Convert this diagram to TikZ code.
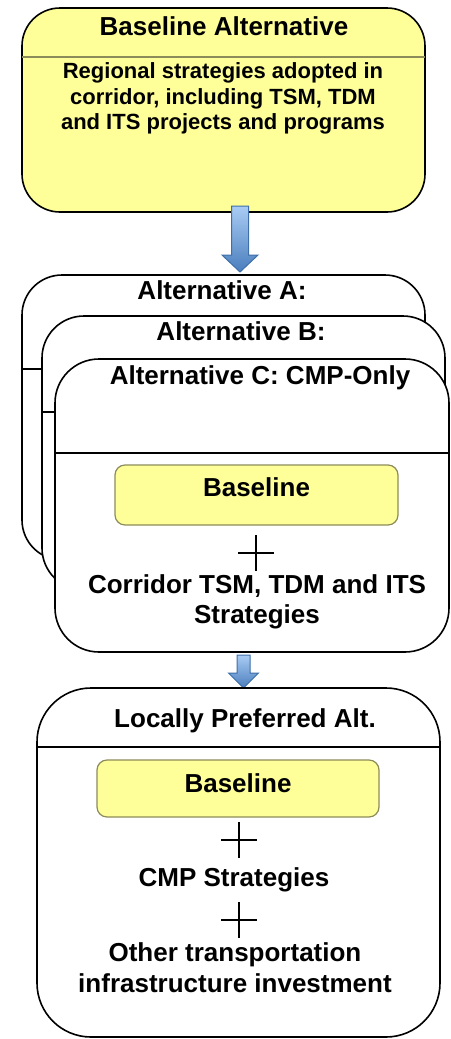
\documentclass[tikz,border=0pt]{standalone}
\usepackage{fontspec}
\setmainfont{Liberation Sans}
\usepackage{xcolor}
\usetikzlibrary{calc}
\definecolor{pale}{HTML}{FFFF99}
\definecolor{olive}{HTML}{8C8C5A}
\definecolor{lightblue}{HTML}{A9CCF4}
\definecolor{darkblue}{HTML}{4A7EBD}
\definecolor{edgeblue}{HTML}{3E6FA8}

\begin{document}
\begin{tikzpicture}[x=0.5pt, y=-0.5pt, line width=0.8pt,
  box/.style={draw, fill=white, rounded corners=#1, outer sep=0pt, inner sep=0pt},
  inbox/.style={draw=olive, line width=0.6pt, fill=pale, rounded corners=5pt, outer sep=0pt, inner sep=3.5pt,
    minimum width=141.5pt, font=\fontsize{13}{15.5}\selectfont\bfseries},
  ttl/.style={font=\fontsize{13}{15.5}\selectfont\bfseries, text height=9.5pt, text depth=2.5pt, inner sep=0pt},
  txt/.style={font=\fontsize{13}{15.3}\selectfont\bfseries, align=center, inner sep=0pt},
  arr/.style={top color=lightblue, bottom color=darkblue, draw=edgeblue, line width=0.5pt},
  plus/.style={line width=0.7pt}]
  \useasboundingbox (0,0) rectangle (450,1039);

  % baseline alternative
  \node[box=19pt, fill=pale, minimum width=201.5pt, minimum height=102pt] (topbox) at (223.5,110) {};
  \draw[olive, line width=0.6pt] (topbox.west |- 0,57) -- (topbox.east |- 0,57);
  \node[ttl] (toptitle) at (224,28) {Baseline Alternative};
  \node[txt, font=\fontsize{11}{12.75}\selectfont\bfseries] (toptext) at (223,98.5)
    {Regional strategies adopted in\\corridor, including TSM, TDM\\and ITS projects and programs};

  \coordinate (t1) at ($(topbox.south)+(16.5,60)$);
  \shade[arr] (t1) -- ++(-18,-17) -- ++(9.5,0) -- ++(0,-49) -- ++(17,0) -- ++(0,49) -- ++(9.5,0) -- cycle;

  % stacked alternatives
  \node[box=20pt, minimum width=201.5pt, minimum height=142.5pt] (alta) at (223.5,417.5) {};
  \draw (alta.west |- 0,369) -- (alta.east |- 0,369);
  \node[ttl] (titlea) at (222,292) {Alternative A:};

  \node[box=21pt, minimum width=201.5pt, minimum height=137pt] (altb) at (243.5,453) {};
  \draw (altb.west |- 0,412) -- (altb.east |- 0,412);
  \node[ttl] (titleb) at (241,333) {Alternative B:};

  \node[box=22pt, minimum width=197pt, minimum height=146.5pt] (altc) at (252,505.5) {};
  \draw (altc.west |- 0,453) -- (altc.east |- 0,453);
  \node[ttl] (titlec) at (260,377) {Alternative C: CMP-Only};

  \node[inbox, minimum height=30pt, text height=12pt, text depth=11pt] (cbase) at (256.5,495) {Baseline};
  \draw[plus] (256,535) -- (256,571) (238,553) -- (274,553);
  \node[txt] (cstrat) at (257,602) {Corridor TSM, TDM and ITS\\Strategies};

  \coordinate (t2) at ($(altc.south)+(-8.5,36)$);
  \shade[arr] (t2) -- ++(-15,-15) -- ++(8.5,0) -- ++(0,-18) -- ++(13,0) -- ++(0,18) -- ++(8.5,0) -- cycle;

  % locally preferred
  \node[box=27pt, minimum width=201.5pt, minimum height=174.5pt] (lpa) at (238.5,862.5) {};
  \draw (lpa.west |- 0,747) -- (lpa.east |- 0,747);
  \node[ttl] (lpatitle) at (245,720) {Locally Preferred Alt.};

  \node[inbox, minimum width=141pt, minimum height=28.5pt, text height=12.5pt, text depth=9pt] (lbase) at (238,788.5) {Baseline};
  \draw[plus] (239,822) -- (239,858) (221,840) -- (257,840);
  \node[ttl] (cmp) at (234,879) {CMP Strategies};
  \draw[plus] (239,902) -- (239,938) (221,920) -- (257,920);
  \node[txt, font=\fontsize{13}{15.5}\selectfont\bfseries] (other) at (235,967.5) {Other transportation\\infrastructure investment};
\end{tikzpicture}
\end{document}
